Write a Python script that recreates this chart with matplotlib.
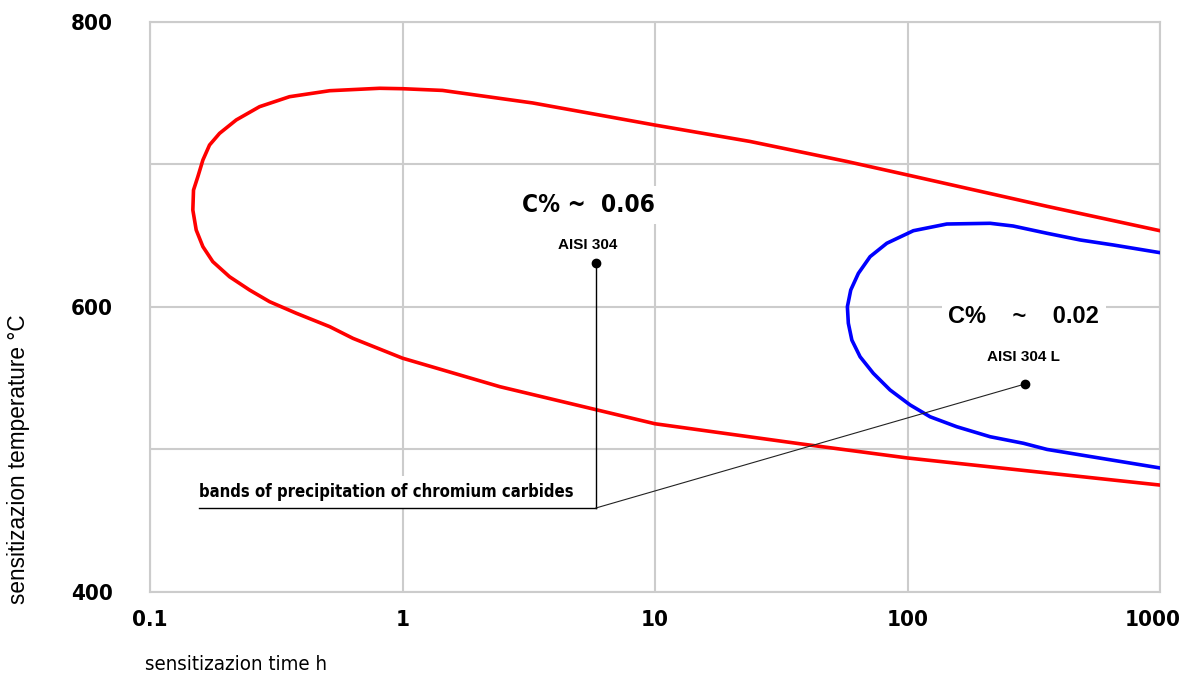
import numpy as np
import matplotlib
matplotlib.use('Agg')
import matplotlib.pyplot as plt
import matplotlib.transforms as mtransforms
from matplotlib import font_manager
from matplotlib.ticker import FixedLocator, NullFormatter, NullLocator

# curva C% ~ 0.06 (AISI 304): horas, temperatura
horas_304 = [1000, 357, 100, 57.4, 23.8, 10, 3.28, 1.44, 1.0, 0.812, 0.515, 0.357, 0.2716,
             0.2196, 0.1886, 0.1721, 0.162, 0.1547, 0.1487, 0.1478, 0.1524, 0.162, 0.1773,
             0.2066, 0.248, 0.2977, 0.3798, 0.515, 0.6366, 1.0, 2.43, 5.8, 10, 37.4,
             100, 1000]
temp_304 = [653.4, 670.5, 692.5, 702, 716, 727.5, 743, 751.8, 753, 753.3, 751.6, 747.4, 740.4,
            731.1, 721.7, 713.5, 703.0, 691.3, 681.9, 667.9, 653.9, 642.2, 631.7,
            621.1, 611.8, 603.6, 595.5, 586.1, 577.9, 564, 544, 528, 518, 504,
            494, 475]

# curva C% ~ 0.02 (AISI 304 L)
horas_304L = [1000, 653, 483, 357, 262, 212.5, 143.1, 105.5, 82.8, 71.1, 63.9, 59.6, 57.8,
              58.3, 60.2, 64.9, 73.2, 85.3, 102.4, 122.9, 156.8, 212.5, 288, 357, 1000]
temp_304L = [638, 643.4, 646.9, 651.6, 656.7, 658.6, 658.1, 653.4, 644.6, 635.2, 623.5, 611.8,
             600.1, 588.5, 576.7, 565.0, 553.4, 541.7, 531.2, 522.9, 515.9, 508.9, 504.3,
             500, 487]

ticks_x = [0.1, 1, 10, 100, 1000]
etiquetas_x = ['0.1', '1', '10', '100', '1000']
ticks_y = [400, 600, 800]
ticks_y_menor = [500, 700]

# puntos de las lineas de referencia
punto_304 = (5.83, 630.7)
esquina = (5.83, 458.9)
inicio_banda = (0.157, 458.9)
punto_304L = (292, 545.9)

# fuente angosta si hay alguna instalada
fuentes = font_manager.fontManager.ttflist
nombres = {f.name for f in fuentes}
if 'Liberation Sans Narrow' in nombres:
	angosta = dict(family=['Liberation Sans Narrow', 'DejaVu Sans'])
	esc = 1.1
elif any(f.name == 'DejaVu Sans' and 'condensed' in str(f.stretch) for f in fuentes):
	angosta = dict(family=['DejaVu Sans'], stretch='condensed')
	esc = 1.0
else:
	angosta = dict(family=['Liberation Sans', 'DejaVu Sans'])
	esc = 0.9
normal = ['Liberation Sans', 'DejaVu Sans']

fig = plt.figure(figsize=(11.85, 6.75), dpi=100)
ax = fig.add_axes([150/1185, 1-592/675, 1010/1185, (592-21.7)/675])

ax.set_xscale('log')
ax.set_xlim(0.1, 1000)
ax.set_ylim(400, 800)

gris = '#cccccc'
for s in ax.spines.values():
	s.set_color(gris)
	s.set_linewidth(1.5)

ax.xaxis.set_major_locator(FixedLocator(ticks_x))
ax.xaxis.set_minor_locator(NullLocator())
ax.set_xticklabels(etiquetas_x)
ax.yaxis.set_major_locator(FixedLocator(ticks_y))
ax.yaxis.set_minor_locator(FixedLocator(ticks_y_menor))
ax.yaxis.set_minor_formatter(NullFormatter())
ax.grid(True, which='both', color=gris, linewidth=1.5)
ax.set_axisbelow(True)
ax.tick_params(which='both', length=0)
ax.tick_params(axis='x', pad=13)
ax.tick_params(axis='y', pad=27)
for lab in ax.get_xticklabels() + ax.get_yticklabels():
	lab.set(**angosta)
	lab.set_fontweight('bold')
	lab.set_fontsize(16 * esc)
# el 1000 un poco a la izquierda para que no se corte
ult = ax.get_xticklabels()[-1]
ult.set_transform(ult.get_transform() + mtransforms.ScaledTranslation(-7/100, 0, fig.dpi_scale_trans))

ax.plot(horas_304, temp_304, color='#ff0000', linewidth=2.6, zorder=3)
ax.plot(horas_304L, temp_304L, color='#0000ff', linewidth=2.6, zorder=3)

# lineas de referencia
ax.plot([punto_304[0], esquina[0]], [punto_304[1], esquina[1]], color='black', linewidth=1.0, zorder=4)
ax.plot([inicio_banda[0], esquina[0]], [inicio_banda[1], esquina[1]], color='black', linewidth=1.0, zorder=4)
ax.plot([esquina[0], punto_304L[0]], [esquina[1], punto_304L[1]], color='#222222', linewidth=0.8, zorder=4)
ax.plot([punto_304[0], punto_304L[0]], [punto_304[1], punto_304L[1]], 'o', color='black', markersize=6, zorder=5)

caja = dict(facecolor='white', edgecolor='none', pad=5)
ax.text(5.47, 671.4, 'C% ~  0.06', fontweight='bold', fontsize=17.5 * esc,
	ha='center', va='center', bbox=caja, zorder=2, **angosta)
ax.text(5.4, 643.4, 'AISI 304', family=normal, fontweight='bold', fontsize=11,
	ha='center', va='center', zorder=2)
ax.text(289, 592.9, 'C%    ~    0.02', family=normal, fontweight='bold', fontsize=17,
	ha='center', va='center', bbox=caja, zorder=2)
ax.text(289, 564.8, 'AISI 304 L', family=normal, fontweight='bold', fontsize=11,
	ha='center', va='center', zorder=2)
ax.text(0.157, 470.1, 'bands of precipitation of chromium carbides',
	fontweight='bold', fontsize=12 * esc, ha='left', va='center', bbox=caja, zorder=2, **angosta)

fig.text(145/1185, 1-665/675, 'sensitizazion time h', fontsize=14.7 * esc,
	ha='left', va='center', **angosta)
fig.text(19/1185, 1-459/675, 'sensitizazion temperature °C', family=normal, fontsize=16.3,
	rotation=90, ha='center', va='center')

fig.savefig('out.png', dpi=100)
